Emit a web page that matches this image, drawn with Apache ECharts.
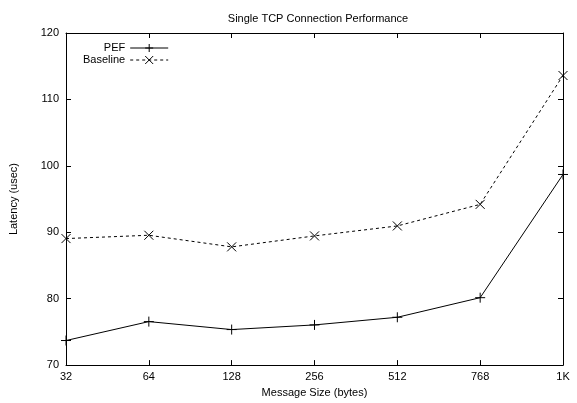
<!DOCTYPE html>
<html lang="en">
<head>
    <meta charset="UTF-8">
    <title>Single TCP Connection Performance</title>
    <script src="https://cdn.jsdelivr.net/npm/echarts@6/dist/echarts.min.js"></script>
    <style>
        html, body { margin: 0; padding: 0; background: #fff; }
        #main { width: 577px; height: 403px; }
    </style>
</head>
<body>
    <div id="main"></div>
    <script type="text/javascript">
        // data
        const sizes = ['32', '64', '128', '256', '512', '768', '1K'];
        const pef = [73.7, 76.55, 75.35, 76.05, 77.2, 80.15, 98.7];
        const baseline = [89.05, 89.55, 87.8, 89.45, 90.95, 94.2, 113.6];
        const yTicks = [70, 80, 90, 100, 110, 120];

        const font = 'Liberation Sans, Arial, sans-serif';
        const plus = 'path://M0,5 L10,5 M5,0 L5,10';
        const cross = 'path://M0,0 L10,10 M0,10 L10,0';

        const grafico = echarts.init(document.getElementById('main'));
        const option = {
            animation: false,
            textStyle: { fontFamily: font, color: '#000' },
            title: {
                text: 'Single TCP Connection Performance',
                left: 313,
                top: 8,
                textAlign: 'center',
                textStyle: { fontSize: 11, fontWeight: 'normal', color: '#000', fontFamily: font }
            },
            legend: {
                orient: 'vertical',
                align: 'right',
                left: 78,
                top: 37,
                itemWidth: 38,
                itemHeight: 10,
                itemGap: 0,
                textStyle: { fontSize: 11, lineHeight: 12, color: '#000', fontFamily: font },
                lineStyle: { width: 1 },
                itemStyle: { borderWidth: 1 },
                data: ['PEF', 'Baseline']
            },
            grid: { left: 63, right: 14, top: 33, bottom: 35 },
            xAxis: [{
                type: 'category',
                data: sizes,
                boundaryGap: false,
                name: 'Message Size (bytes)',
                nameLocation: 'middle',
                nameGap: 20,
                nameTextStyle: { fontSize: 11, color: '#000' },
                axisLine: { lineStyle: { color: '#000', width: 1 } },
                axisTick: { inside: true, length: 5, alignWithLabel: true, lineStyle: { color: '#000' } },
                axisLabel: { fontSize: 11, color: '#000', margin: 6 },
                splitLine: { show: false }
            }, {
                type: 'category',
                data: sizes,
                boundaryGap: false,
                position: 'top',
                axisLine: { lineStyle: { color: '#000', width: 1 } },
                axisTick: { inside: true, length: 5, lineStyle: { color: '#000' } },
                axisLabel: { show: false },
                splitLine: { show: false }
            }],
            yAxis: [{
                type: 'value',
                min: yTicks[0],
                max: yTicks[yTicks.length - 1],
                interval: 10,
                name: 'Latency (usec)',
                nameLocation: 'middle',
                nameGap: 47,
                nameTextStyle: { fontSize: 11, color: '#000' },
                axisLine: { show: true, lineStyle: { color: '#000', width: 1 } },
                axisTick: { show: true, inside: true, length: 5, lineStyle: { color: '#000' } },
                axisLabel: { fontSize: 11, color: '#000', margin: 7 },
                splitLine: { show: false }
            }, {
                type: 'value',
                min: yTicks[0],
                max: yTicks[yTicks.length - 1],
                interval: 10,
                position: 'right',
                axisLine: { show: true, lineStyle: { color: '#000', width: 1 } },
                axisTick: { show: true, inside: true, length: 5, lineStyle: { color: '#000' } },
                axisLabel: { show: false },
                splitLine: { show: false }
            }],
            series: [
                {
                    name: 'PEF',
                    type: 'line',
                    data: pef,
                    symbol: plus,
                    symbolSize: 10,
                    lineStyle: { color: '#000', width: 1 },
                    itemStyle: { color: 'transparent', borderColor: '#000', borderWidth: 1 }
                },
                {
                    name: 'Baseline',
                    type: 'line',
                    data: baseline,
                    symbol: cross,
                    symbolSize: 9,
                    lineStyle: { color: '#000', width: 1, type: [3, 3] },
                    itemStyle: { color: 'transparent', borderColor: '#000', borderWidth: 1 }
                }
            ]
        };
        grafico.setOption(option);
    </script>
</body>
</html>
